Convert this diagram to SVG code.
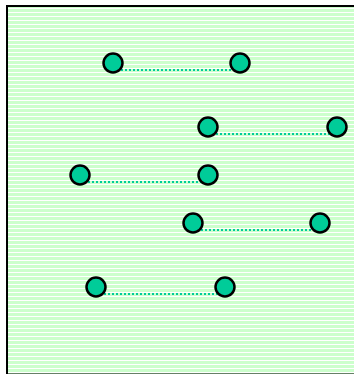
<svg xmlns="http://www.w3.org/2000/svg" width="354" height="374" viewBox="0 0 354 374">
<defs>
<pattern id="stripes" patternUnits="userSpaceOnUse" x="0" y="0" width="8" height="4">
<rect x="0" y="0" width="8" height="4" fill="#ccffcc"/>
<rect x="0" y="0" width="8" height="1" fill="#ffffff"/>
</pattern>
<style>
.node{fill:#00cc99;stroke:#000;stroke-width:2.5}
.edge{stroke:#00cc99;stroke-width:2;stroke-dasharray:2 2;fill:none}
</style>
</defs>
<rect x="7" y="6" width="360" height="368.5" fill="url(#stripes)" stroke="#000" stroke-width="2"/>
<g id="connectors">
<line class="edge" x1="113" y1="70" x2="240" y2="70"/>
<line class="edge" x1="208" y1="134" x2="337" y2="134"/>
<line class="edge" x1="80" y1="182" x2="208" y2="182"/>
<line class="edge" x1="193" y1="230" x2="320" y2="230"/>
<line class="edge" x1="96" y1="294" x2="225" y2="294"/>
</g>
<g id="n1a"><circle class="node" cx="113" cy="63" r="9.5"/></g>
<g id="n1b"><circle class="node" cx="240" cy="63" r="9.5"/></g>
<g id="n2a"><circle class="node" cx="208" cy="127" r="9.5"/></g>
<g id="n2b"><circle class="node" cx="337" cy="127" r="9.5"/></g>
<g id="n3a"><circle class="node" cx="80" cy="175" r="9.5"/></g>
<g id="n3b"><circle class="node" cx="208" cy="175" r="9.5"/></g>
<g id="n4a"><circle class="node" cx="193" cy="223" r="9.5"/></g>
<g id="n4b"><circle class="node" cx="320" cy="223" r="9.5"/></g>
<g id="n5a"><circle class="node" cx="96" cy="287" r="9.5"/></g>
<g id="n5b"><circle class="node" cx="225" cy="287" r="9.5"/></g>
</svg>
